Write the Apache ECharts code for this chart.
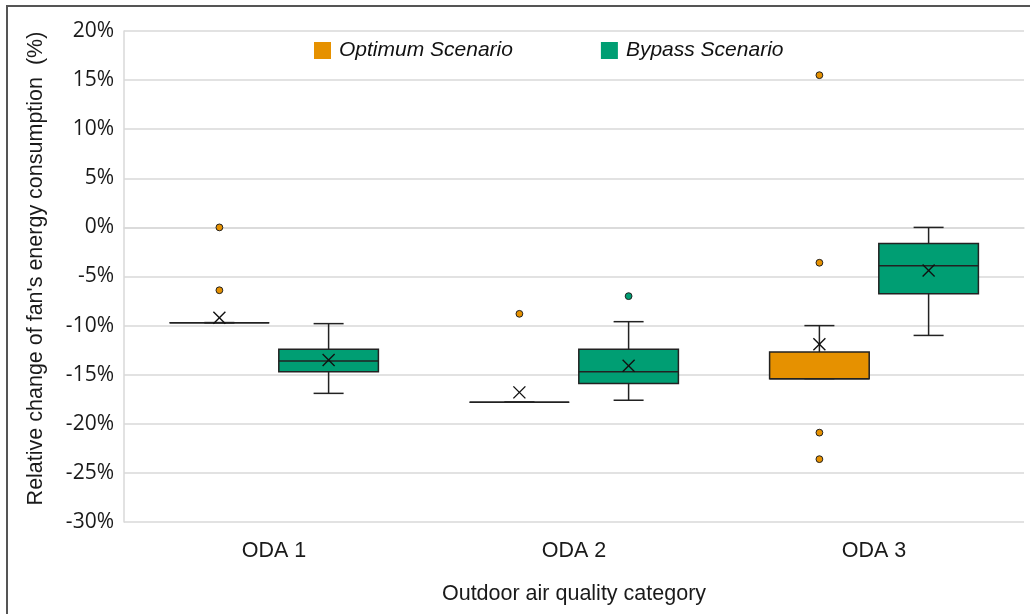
<!DOCTYPE html>
<html>
<head>
<meta charset="utf-8">
<script src="https://cdn.jsdelivr.net/npm/echarts@6/dist/echarts.min.js"></script>
<style>
html,body{margin:0;padding:0;background:#fff;}
#chart{width:1030px;height:614px;}
</style>
</head>
<body>
<div id="chart"></div>
<script>
// ---- data ----
const categories = ['ODA 1', 'ODA 2', 'ODA 3'];
const seriesNames = ['Optimum Scenario', 'Bypass Scenario'];
// [min, Q1, median, Q3, max] (%)
const optimumBox = [
  [-9.7, -9.7, -9.7, -9.7, -9.7],
  [-17.8, -17.8, -17.8, -17.8, -17.8],
  [-15.4, -15.4, -15.4, -12.7, -10.0]
];
const bypassBox = [
  [-16.9, -14.7, -13.6, -12.4, -9.8],
  [-17.6, -15.9, -14.7, -12.4, -9.6],
  [-11.0, -6.75, -3.9, -1.65, 0.0]
];
const optimumMean = [-9.2, -16.8, -11.9];
const bypassMean = [-13.5, -14.1, -4.4];
// [category index, value]
const optimumOutliers = [[0, 0.0], [0, -6.4], [1, -8.8], [2, 15.5], [2, -3.6], [2, -20.9], [2, -23.6]];
const bypassOutliers = [[1, -7.0]];
const yTicks = { min: -30, max: 20, interval: 5 };

// ---- styles ----
const COLORS = ['#E69100', '#009E73'];
const SIDE = [-1, 1];
const OFFSET = 0.182;   // fraction of band width
const BOXW = 0.332;
const CAPW = 0.1;
const EDGE = '#222';
const SANS = 'Liberation Sans';

function boxRender(s) {
  return function (params, api) {
    const cat = api.value(0);
    const band = api.size([1, 0])[0];
    const cx = api.coord([cat, 0])[0] + SIDE[s] * band * OFFSET;
    const w = band * BOXW, cap = band * CAPW;
    const y = i => api.coord([cat, api.value(i)])[1];
    const yMin = y(1), yQ1 = y(2), yMed = y(3), yQ3 = y(4), yMax = y(5);
    const ls = { stroke: EDGE, lineWidth: 1.5 };
    return {
      type: 'group', children: [
        { type: 'line', shape: { x1: cx, y1: yMax, x2: cx, y2: yQ3 }, style: ls },
        { type: 'line', shape: { x1: cx, y1: yQ1, x2: cx, y2: yMin }, style: ls },
        { type: 'line', shape: { x1: cx - cap / 2, y1: yMax, x2: cx + cap / 2, y2: yMax }, style: ls },
        { type: 'line', shape: { x1: cx - cap / 2, y1: yMin, x2: cx + cap / 2, y2: yMin }, style: ls },
        { type: 'rect', shape: { x: cx - w / 2, y: yQ3, width: w, height: yQ1 - yQ3 },
          style: { fill: COLORS[s], stroke: EDGE, lineWidth: 1.5 } },
        { type: 'line', shape: { x1: cx - w / 2, y1: yMed, x2: cx + w / 2, y2: yMed }, style: ls }
      ]
    };
  };
}
function meanRender(s) {
  return function (params, api) {
    const cat = api.value(0);
    const band = api.size([1, 0])[0];
    const p = api.coord([cat, api.value(1)]);
    const cx = p[0] + SIDE[s] * band * OFFSET, cy = p[1];
    const h = 6;
    const ls = { stroke: '#111', lineWidth: 1.4 };
    return {
      type: 'group', children: [
        { type: 'line', shape: { x1: cx - h, y1: cy - h, x2: cx + h, y2: cy + h }, style: ls },
        { type: 'line', shape: { x1: cx - h, y1: cy + h, x2: cx + h, y2: cy - h }, style: ls }
      ]
    };
  };
}
function outlierRender(s) {
  return function (params, api) {
    const cat = api.value(0);
    const band = api.size([1, 0])[0];
    const p = api.coord([cat, api.value(1)]);
    return {
      type: 'circle',
      shape: { cx: p[0] + SIDE[s] * band * OFFSET, cy: p[1], r: 3.4 },
      style: { fill: COLORS[s], stroke: EDGE, lineWidth: 1 }
    };
  };
}

const boxes = [optimumBox, bypassBox];
const means = [optimumMean, bypassMean];
const outliers = [optimumOutliers, bypassOutliers];
const series = [];
[0, 1].forEach(s => {
  series.push({
    name: seriesNames[s], type: 'custom', renderItem: boxRender(s),
    itemStyle: { color: COLORS[s] },
    encode: { x: 0, y: [1, 2, 3, 4, 5] },
    data: boxes[s].map((b, i) => [i].concat(b)), z: 2
  });
  series.push({
    name: seriesNames[s] + ' mean', type: 'custom', renderItem: meanRender(s),
    encode: { x: 0, y: 1 },
    data: means[s].map((m, i) => [i, m]), z: 3
  });
  series.push({
    name: seriesNames[s] + ' outliers', type: 'custom', renderItem: outlierRender(s),
    encode: { x: 0, y: 1 },
    data: outliers[s], z: 3
  });
});

const chart = echarts.init(document.getElementById('chart'), null, { renderer: 'canvas' });
chart.setOption({
  animation: false,
  backgroundColor: '#fff',
  textStyle: { fontFamily: 'Open Sans' },
  graphic: [{
    type: 'rect', shape: { x: 7, y: 6, width: 1200, height: 800 },
    style: { fill: 'none', stroke: '#555', lineWidth: 2 }, z: 100
  }],
  legend: {
    data: seriesNames,
    left: 309, top: 35,
    icon: 'rect', itemWidth: 17, itemHeight: 17, itemGap: 88,
    textStyle: { fontFamily: SANS, fontStyle: 'italic', fontSize: 21, color: '#111', padding: [0, 0, 0, 3] }
  },
  grid: { left: 124, right: 6, top: 31, bottom: 92, containLabel: false },
  xAxis: {
    type: 'category', data: categories,
    axisLine: { lineStyle: { color: '#d9d9d9', width: 1.5 } },
    axisTick: { show: false },
    axisLabel: { fontFamily: SANS, fontSize: 21.5, color: '#1a1a1a', margin: 18 },
    name: 'Outdoor air quality category', nameLocation: 'middle', nameGap: 61,
    nameTextStyle: { fontFamily: SANS, fontSize: 21.5, color: '#1a1a1a' }
  },
  yAxis: {
    type: 'value', min: yTicks.min, max: yTicks.max, interval: yTicks.interval,
    axisLine: { show: true, lineStyle: { color: '#d9d9d9', width: 1.5 } },
    axisTick: { show: false },
    splitLine: { lineStyle: { color: '#d9d9d9', width: 1.5 } },
    axisLabel: { formatter: '{value}%', fontSize: 21, color: '#1a1a1a', margin: 10 },
    name: "Relative change of fan's energy consumption  (%)", nameLocation: 'middle', nameGap: 77,
    nameTextStyle: { fontFamily: SANS, fontSize: 21.5, color: '#1a1a1a', padding: [0, 0, 0, 16] }
  },
  series: series
});
</script>
</body>
</html>
